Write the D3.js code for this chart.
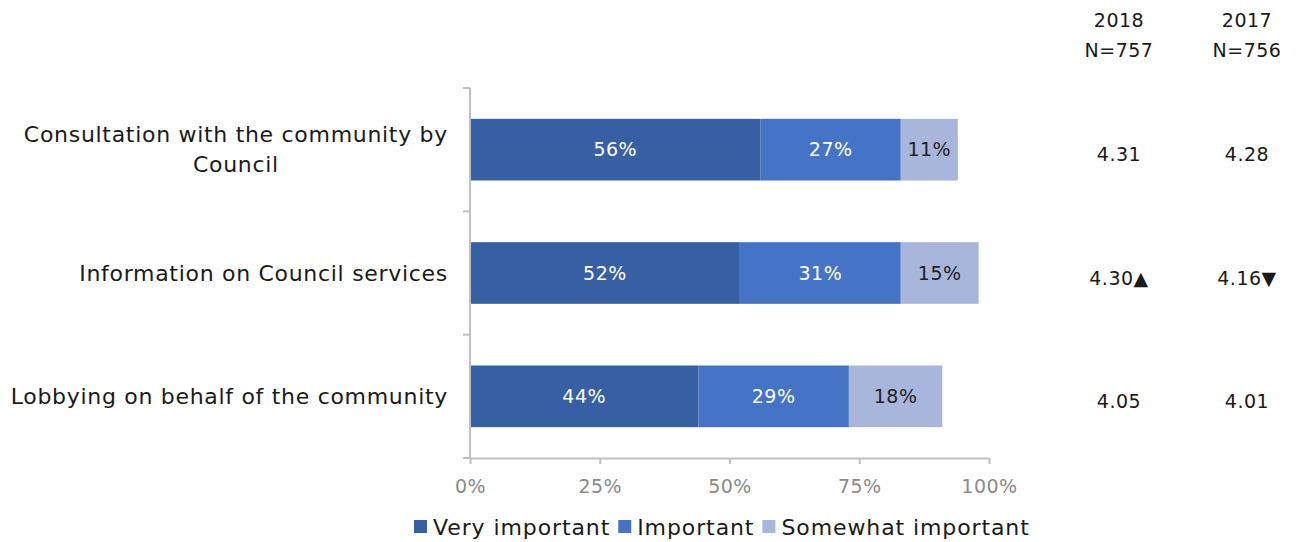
<!DOCTYPE html>
<html>
<head>
<meta charset="utf-8">
<script src="https://cdn.jsdelivr.net/npm/d3@7"></script>
<style>
  html, body { margin: 0; padding: 0; background: #fff; }
  svg { display: block; font-family: "DejaVu Sans", sans-serif; }
</style>
</head>
<body>
<svg id="chart" width="1298" height="542"></svg>
<script>
// Importance ratings, share of respondents per level
const categories = [
  ["Consultation with the community by", "Council"],
  ["Information on Council services"],
  ["Lobbying on behalf of the community"]
];
const seriesNames = ["Very important", "Important", "Somewhat important"];
const veryImportant = [56, 52, 44];
const important = [27, 31, 29];
const somewhatImportant = [11, 15, 18];
const xTicks = [0, 25, 50, 75, 100];

// Mean scores by survey year
const yearHeaders = [["2018", "N=757"], ["2017", "N=756"]];
const mean2018 = ["4.31", "4.30▲", "4.05"];
const mean2017 = ["4.28", "4.16▼", "4.01"];

const colors = ["#3760A4", "#4573C5", "#A8B6DC"];
const labelColors = ["#ffffff", "#ffffff", "#222222"];

const svg = d3.select("#chart");
const plotLeft = 470, plotRight = 989, plotTop = 88, plotBottom = 458;

const x = d3.scaleLinear().domain([0, 100]).range([plotLeft, plotRight]);
const y = d3.scaleBand().domain(d3.range(categories.length)).range([plotTop, plotBottom]).paddingInner(0.5).paddingOuter(0.25);

const series = [veryImportant, important, somewhatImportant];
const rows = categories.map((c, i) => {
  let acc = 0;
  return series.map((s, k) => {
    const seg = { row: i, k, v: s[i], x0: acc, x1: acc + s[i] };
    acc += s[i];
    return seg;
  });
});

// Bars
const g = svg.append("g");
rows.flat().forEach(d => {
  g.append("rect")
    .attr("x", x(d.x0))
    .attr("y", y(d.row))
    .attr("width", x(d.x1) - x(d.x0))
    .attr("height", y.bandwidth())
    .attr("fill", colors[d.k]);
  g.append("text")
    .attr("x", (x(d.x0) + x(d.x1)) / 2)
    .attr("y", y(d.row) + y.bandwidth() / 2)
    .attr("dy", "0.35em")
    .attr("text-anchor", "middle")
    .attr("font-size", 19)
    .attr("letter-spacing", 0.5)
    .attr("fill", labelColors[d.k])
    .text(d.v + "%");
});

// X axis
const xAxis = svg.append("g")
  .attr("transform", `translate(0,${plotBottom})`)
  .call(d3.axisBottom(x).tickValues(xTicks).tickFormat(d => d + "%").tickSize(6).tickPadding(16).tickSizeOuter(0));
xAxis.select(".domain").attr("stroke", "#c0c0c0").attr("stroke-width", 2);
xAxis.selectAll(".tick line").attr("stroke", "#c0c0c0").attr("stroke-width", 2);
xAxis.selectAll(".tick text").attr("fill", "#8a8a8a").attr("font-size", 19).attr("letter-spacing", 0.5)
  .attr("font-family", "DejaVu Sans, sans-serif");

// Y axis line with band separators
const bandEdges = d3.range(categories.length + 1).map(i => plotTop + i * (plotBottom - plotTop) / categories.length);
svg.append("line").attr("x1", plotLeft).attr("x2", plotLeft).attr("y1", plotTop).attr("y2", plotBottom)
  .attr("stroke", "#c0c0c0").attr("stroke-width", 2);
svg.selectAll(".ytick").data(bandEdges).enter().append("line")
  .attr("x1", plotLeft - 7).attr("x2", plotLeft).attr("y1", d => d).attr("y2", d => d)
  .attr("stroke", "#c0c0c0").attr("stroke-width", 2);

// Category labels
categories.forEach((lines, i) => {
  const cy = y(i) + y.bandwidth() / 2;
  const t = svg.append("text")
    .attr("x", 448)
    .attr("text-anchor", "end")
    .attr("font-size", 22)
    .attr("letter-spacing", 0.7)
    .attr("fill", "#1a1a1a");
  const lh = 30;
  lines.forEach((ln, j) => {
    t.append("tspan")
      .attr("x", 448)
      .attr("y", cy + (j - (lines.length - 1) / 2) * lh)
      .attr("dy", "0.35em")
      .text(ln);
  });
  if (lines.length > 1) {
    // center wrapped label lines under each other
    const w0 = t.node().getBBox();
    t.selectAll("tspan").attr("text-anchor", "middle").attr("x", w0.x + w0.width / 2);
  }
});

// Year columns
const colX = [1119, 1247];
yearHeaders.forEach((h, c) => {
  h.forEach((s, j) => {
    svg.append("text").attr("x", colX[c]).attr("y", 20 + j * 30).attr("dy", "0.35em")
      .attr("text-anchor", "middle").attr("font-size", 19).attr("letter-spacing", 0.5)
      .attr("fill", "#1a1a1a").text(s);
  });
});
[mean2018, mean2017].forEach((col, c) => {
  col.forEach((v, i) => {
    svg.append("text").attr("x", colX[c]).attr("y", y(i) + y.bandwidth() / 2 + 5).attr("dy", "0.35em")
      .attr("text-anchor", "middle").attr("font-size", 19).attr("letter-spacing", 0.5)
      .attr("fill", "#1a1a1a").text(v);
  });
});

// Legend
const legend = svg.append("g").attr("transform", "translate(414,527)");
let lx = 0;
seriesNames.forEach((n, k) => {
  legend.append("rect").attr("x", lx).attr("y", -7).attr("width", 13).attr("height", 13).attr("fill", colors[k]);
  const t = legend.append("text").attr("x", lx + 19).attr("y", 0).attr("dy", "0.35em")
    .attr("font-size", 22).attr("letter-spacing", 0.9).attr("fill", "#1a1a1a").text(n);
  lx += 19 + t.node().getComputedTextLength() + 8;
});
</script>
</body>
</html>
